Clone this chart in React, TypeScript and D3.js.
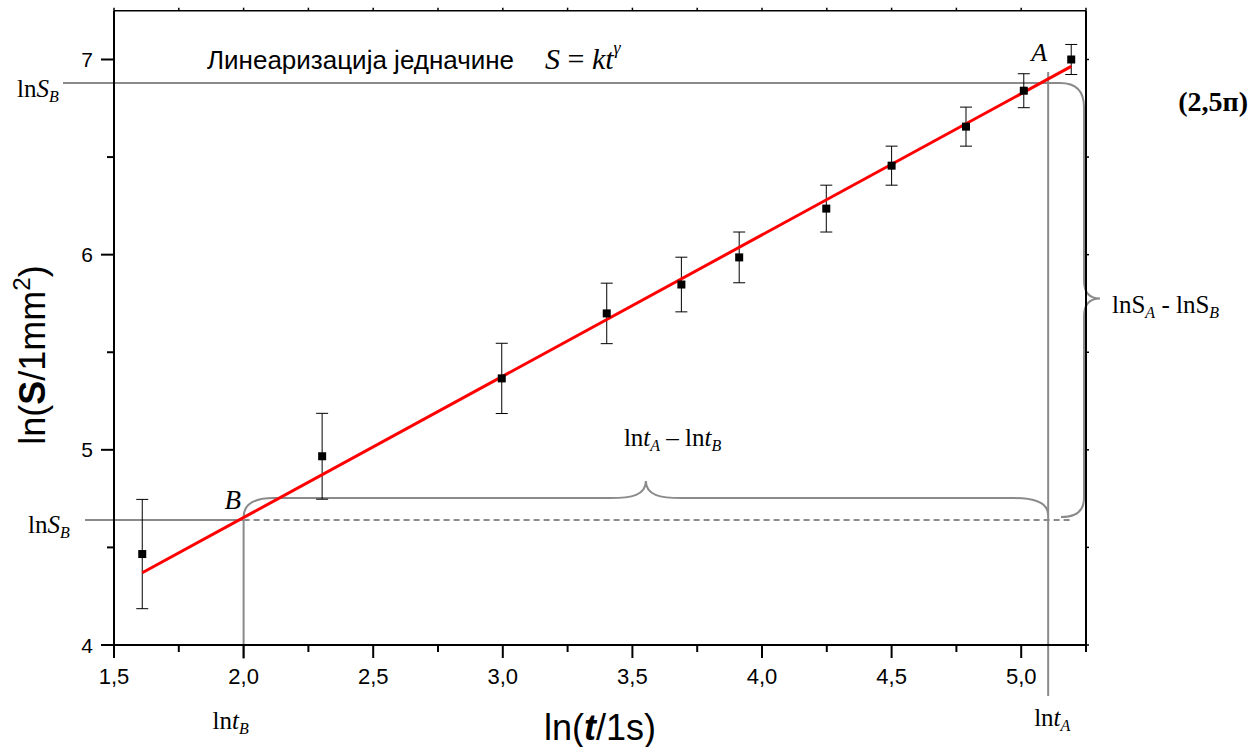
import * as d3 from "d3";
import React from "react";

// ln(t/1s) values of the measured points
const lnT = [1.609, 2.303, 2.996, 3.401, 3.689, 3.912, 4.248, 4.5, 4.787, 5.01, 5.193];
// ln(S/1mm^2)
const lnS = [4.466, 4.967, 5.366, 5.699, 5.847, 5.986, 6.236, 6.456, 6.656, 6.84, 7.0];
// error bar half heights
const lnSErr = [0.28, 0.22, 0.18, 0.155, 0.14, 0.13, 0.12, 0.1, 0.1, 0.087, 0.077];

// linear fit end points
const fitT = [1.609, 5.193];
const fitS = [4.37, 6.965];

// points A and B used in the slope construction
const lnTB = 2.0;
const lnSB = 4.64;
const lnTA = 5.104;
const lnSA = 6.88;

const xMajor = [1.5, 2.0, 2.5, 3.0, 3.5, 4.0, 4.5, 5.0];
const xMinor = [1.75, 2.25, 2.75, 3.25, 3.75, 4.25, 4.75, 5.25];
const yMajor = [4, 5, 6, 7];
const yMinor = [4.5, 5.5, 6.5];

const W = 1254;
const H = 747;
const GRAY = "#8a8a8a";
const SANS = "'Liberation Sans', Arial, sans-serif";
const SERIF = "'Liberation Serif', 'Times New Roman', serif";

export default function App() {
  const x = d3.scaleLinear().domain([1.5, 5.25]).range([114, 1086]);
  const y = d3.scaleLinear().domain([4, 7.25]).range([645, 10.7]);
  const [x0, x1] = x.range();
  const [y0, y1] = y.range();

  const fmt = (v: number) => d3.format(".1f")(v).replace(".", ",");

  const fitLine = d3
    .line<number>()
    .x((d) => x(d))
    .y((_, i) => y(fitS[i]));

  const xb = x(lnTB);
  const yb = y(lnSB);
  const xa = x(lnTA);
  const ya = y(lnSA);

  // horizontal brace (lnt_A - lnt_B)
  const yH = yb - 22;
  const xm = (xb + xa) / 2;
  const hBrace = [
    `M${xb},${yb - 3}`,
    `Q${xb},${yH} ${xb + 30},${yH}`,
    `L${xm - 36},${yH}`,
    `C${xm - 14},${yH} ${xm},${yH - 3} ${xm},${yH - 17}`,
    `C${xm},${yH - 3} ${xm + 14},${yH} ${xm + 36},${yH}`,
    `L${xa - 34},${yH}`,
    `Q${xa},${yH} ${xa},${yb - 5}`,
  ].join(" ");

  // vertical brace (lnS_A - lnS_B), starting from the lnS_A line
  const xV = x1 - 2;
  const ym = (ya + yb) / 2 - 3;
  const vBrace = [
    `M${x0 - 51},${ya}`,
    `L${xV - 24},${ya}`,
    `Q${xV},${ya} ${xV},${ya + 24}`,
    `L${xV},${ym - 18}`,
    `C${xV},${ym - 6} ${xV + 6},${ym} ${xV + 16},${ym}`,
    `C${xV + 6},${ym} ${xV},${ym + 6} ${xV},${ym + 18}`,
    `L${xV},${yb - 22}`,
    `Q${xV},${yb - 3} ${xV - 23},${yb - 3}`,
  ].join(" ");

  return (
    <svg
      width={W}
      height={H}
      style={{ position: "absolute", left: 0, top: 0, display: "block", background: "#fff" }}
    >
      {/* construction lines */}
      <g fill="none" stroke={GRAY} strokeWidth={2}>
        <path d={vBrace} />
        <path d={hBrace} />
        <line x1={x0 - 29} x2={xb} y1={yb} y2={yb} />
        <line x1={xb} x2={xV - 11} y1={yb} y2={yb} strokeDasharray="6,4" />
        <line x1={xb} x2={xb} y1={yb} y2={y0 + 14} />
        <line x1={xa} x2={xa} y1={ya - 11} y2={y0 + 51} />
      </g>

      {/* error bars */}
      <g stroke="#000" strokeWidth={1}>
        {lnT.map((t, i) => {
          const cx = x(t);
          const top = y(lnS[i] + lnSErr[i]);
          const bot = y(lnS[i] - lnSErr[i]);
          return (
            <g key={`e-${i}`}>
              <line x1={cx} x2={cx} y1={top} y2={bot} />
              <line x1={cx - 6} x2={cx + 6} y1={top} y2={top} />
              <line x1={cx - 6} x2={cx + 6} y1={bot} y2={bot} />
            </g>
          );
        })}
      </g>

      {/* fit */}
      <path d={fitLine(fitT) || ""} fill="none" stroke="#ff0000" strokeWidth={3} />

      {/* points */}
      {lnT.map((t, i) => (
        <rect key={`p-${i}`} x={x(t) - 4} y={y(lnS[i]) - 4} width={8} height={8} fill="#000" />
      ))}

      {/* frame and ticks */}
      <g stroke="#000" fill="none">
        <line x1={x0} x2={x1} y1={y0} y2={y0} strokeWidth={2} />
        <line x1={x0} x2={x0} y1={y1} y2={y0 + 13} strokeWidth={2} />
        <line x1={x0} x2={x1} y1={y1} y2={y1} strokeWidth={1.5} />
        <line x1={x1} x2={x1} y1={y1} y2={y0} strokeWidth={2} />
        {xMajor.map((v) => (
          <line key={`xM-${v}`} x1={x(v)} x2={x(v)} y1={y0} y2={y0 + 13} strokeWidth={2} />
        ))}
        {xMinor.map((v) => (
          <line key={`xm-${v}`} x1={x(v)} x2={x(v)} y1={y0} y2={y0 + 7} strokeWidth={2} />
        ))}
        {[...xMajor, ...xMinor].map((v) => (
          <line key={`xt-${v}`} x1={x(v)} x2={x(v)} y1={y1} y2={y1 - 3} strokeWidth={1.5} />
        ))}
        {yMajor.map((v) => (
          <line key={`yM-${v}`} x1={x0 - 13} x2={x0} y1={y(v)} y2={y(v)} strokeWidth={2} />
        ))}
        {yMinor.map((v) => (
          <line key={`ym-${v}`} x1={x0 - 7} x2={x0} y1={y(v)} y2={y(v)} strokeWidth={2} />
        ))}
        {[...yMajor, ...yMinor].map((v) => (
          <line key={`yr-${v}`} x1={x1} x2={x1 + 3} y1={y(v)} y2={y(v)} strokeWidth={1.5} />
        ))}
      </g>

      {/* tick labels */}
      <g fontFamily={SANS} fontSize={22} fill="#000">
        {xMajor.map((v) => (
          <text key={`xl-${v}`} x={x(v)} y={y0 + 39} textAnchor="middle">
            {fmt(v)}
          </text>
        ))}
        {yMajor.map((v) => (
          <text key={`yl-${v}`} x={x0 - 21} y={y(v) + 7.5} textAnchor="end" fontSize={21}>
            {v}
          </text>
        ))}
      </g>

      {/* axis titles */}
      <text x={(x0 + x1) / 2} y={740} textAnchor="middle" fontFamily={SANS} fontSize={36}>
        ln(<tspan fontWeight="bold" fontStyle="italic">t</tspan>/1s)
      </text>
      <text
        transform={`translate(45,355) rotate(-90)`}
        textAnchor="middle"
        fontFamily={SANS}
        fontSize={36}
      >
        ln(<tspan fontWeight="bold">S</tspan>/1mm
        <tspan fontSize={24} dy={-15}>2</tspan>
        <tspan dy={15}>)</tspan>
      </text>

      {/* title */}
      <text x={207} y={69} fontFamily={SANS} fontSize={26}>
        Линеаризација једначине
      </text>
      <text x={545} y={69} fontFamily={SERIF} fontSize={30}>
        <tspan fontStyle="italic">S</tspan> = <tspan fontStyle="italic">kt</tspan>
        <tspan fontStyle="italic" fontSize={18} dy={-15}>γ</tspan>
      </text>

      {/* annotation labels */}
      <g fontFamily={SERIF} fontSize={25} fill="#000">
        <text x={xa - 17} y={ya - 22} fontStyle="italic" fontSize={26}>A</text>
        <text x={xb - 19} y={yb - 11} fontStyle="italic" fontSize={27}>B</text>

        <text x={17} y={ya + 14}>
          ln<tspan fontStyle="italic">S</tspan>
          <tspan fontStyle="italic" fontSize={16} dy={5}>B</tspan>
        </text>
        <text x={28} y={yb + 13}>
          ln<tspan fontStyle="italic">S</tspan>
          <tspan fontStyle="italic" fontSize={16} dy={5}>B</tspan>
        </text>
        <text x={xb - 31} y={y0 + 84}>
          ln<tspan fontStyle="italic">t</tspan>
          <tspan fontStyle="italic" fontSize={16} dy={5}>B</tspan>
        </text>
        <text x={xa - 14} y={y0 + 81}>
          ln<tspan fontStyle="italic">t</tspan>
          <tspan fontStyle="italic" fontSize={16} dy={5}>A</tspan>
        </text>
        <text x={xm - 22} y={yH - 52}>
          ln<tspan fontStyle="italic">t</tspan>
          <tspan fontStyle="italic" fontSize={16} dy={5}>A</tspan>
          <tspan dy={-5}> – ln</tspan>
          <tspan fontStyle="italic">t</tspan>
          <tspan fontStyle="italic" fontSize={16} dy={5}>B</tspan>
        </text>
        <text x={xV + 28} y={ym + 14}>
          lnS<tspan fontStyle="italic" fontSize={16} dy={5}>A</tspan>
          <tspan dy={-5}> - lnS</tspan>
          <tspan fontStyle="italic" fontSize={16} dy={5}>B</tspan>
        </text>
        <text x={1248} y={111} textAnchor="end" fontWeight="bold" fontSize={28}>
          (2,5п)
        </text>
      </g>
    </svg>
  );
}
